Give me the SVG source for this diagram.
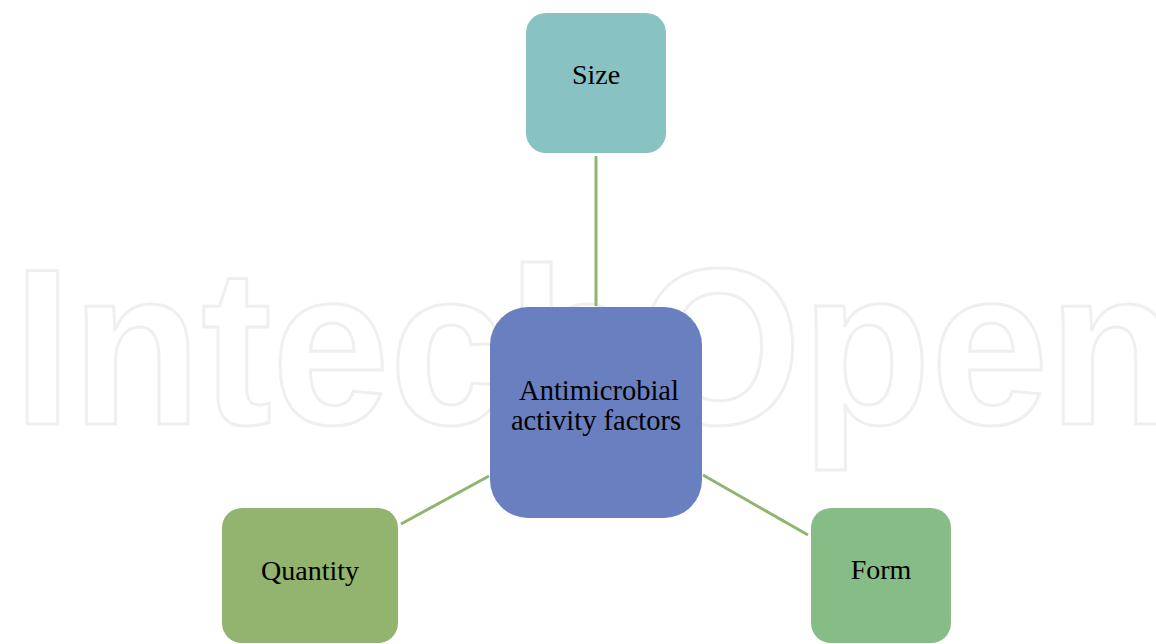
<svg xmlns="http://www.w3.org/2000/svg" width="1156" height="644" viewBox="0 0 1156 644">
<style>
.wm{font-family:"Liberation Sans",Arial,sans-serif;font-weight:bold;font-size:222px;fill:none;stroke:#efefef;stroke-width:3}
.lbl{fill:#000;text-anchor:middle}
.conn{stroke:#8fb56e;stroke-width:3;fill:none}
</style>
<rect width="1156" height="644" fill="#fff"/>
<text class="wm" x="13" y="424" textLength="1165" lengthAdjust="spacingAndGlyphs">IntechOpen</text>
<g id="connectors">
<line class="conn" x1="596" y1="156" x2="596" y2="306"/>
<line class="conn" x1="401" y1="524" x2="489" y2="476"/>
<line class="conn" x1="703" y1="475" x2="808" y2="535"/>
</g>
<g id="size">
<rect x="526" y="13" width="140" height="140" rx="20" fill="#88c2c2"/>
<text class="lbl" x="596" y="84" font-family="'Liberation Serif','Times New Roman','DejaVu Serif',serif" font-size="28">Size</text>
</g>
<g id="center">
<rect x="490" y="307" width="212" height="211" rx="38" fill="#6a7fc0"/>
<text class="lbl" x="599" y="400" font-family="'Liberation Serif','Times New Roman','DejaVu Serif',serif" font-size="28.5">Antimicrobial</text>
<text class="lbl" x="596" y="430" font-family="'Liberation Serif','Times New Roman','DejaVu Serif',serif" font-size="28.5">activity factors</text>
</g>
<g id="quantity">
<rect x="222" y="508" width="176" height="135" rx="20" fill="#92b46e"/>
<text class="lbl" x="310" y="580" font-family="'Liberation Serif','Times New Roman','DejaVu Serif',serif" font-size="28">Quantity</text>
</g>
<g id="form">
<rect x="811" y="508" width="140" height="135" rx="20" fill="#86bd86"/>
<text class="lbl" x="881" y="579" font-family="'Liberation Serif','Times New Roman','DejaVu Serif',serif" font-size="28">Form</text>
</g>
</svg>
